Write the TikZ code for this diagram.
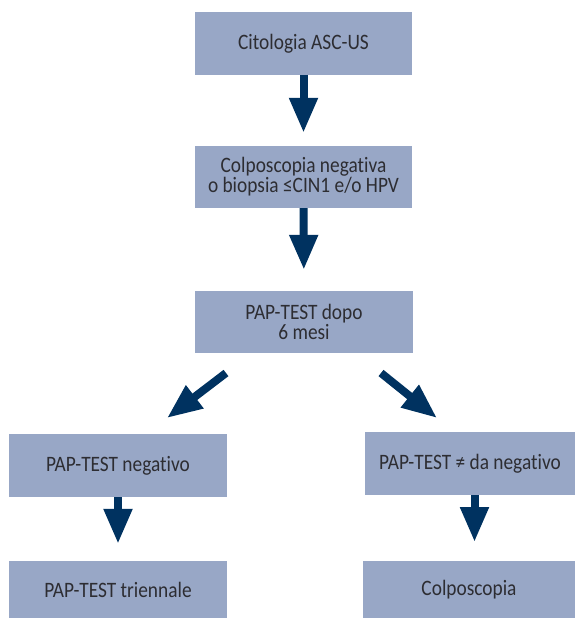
\documentclass[tikz,border=0pt]{standalone}
\usepackage{fontspec}
\setmainfont{Carlito}[FakeStretch=0.88, Ligatures={NoCommon}]
\usetikzlibrary{arrows.meta}
\definecolor{boxfill}{RGB}{152,167,198}
\definecolor{arrowcol}{RGB}{0,50,96}
\definecolor{txtcol}{RGB}{45,45,50}
\tikzset{
  flowbox/.style={fill=boxfill, draw=none, inner sep=0pt, align=center,
    text=txtcol, font=\fontsize{22}{20}\selectfont},
  fatarrow/.style={draw=arrowcol, line width=8pt,
    -{Triangle[width=27pt,length=35pt]}, arrowcol}
}
\begin{document}
\begin{tikzpicture}[x=1pt,y=-1pt]
\useasboundingbox (0,0) rectangle (575,618);
\node[flowbox, minimum width=217pt, minimum height=62pt] (b1) at (303.5,43.5) {Citologia ASC-US};
\node[flowbox, minimum width=217pt, minimum height=62pt] (b2) at (303.5,177) {Colposcopia negativa\\o biopsia ≤CIN1 e/o HPV};
\node[flowbox, minimum width=218pt, minimum height=62pt] (b3) at (304,322) {PAP-TEST dopo\\6 mesi};
\node[flowbox, minimum width=218pt, minimum height=63pt] (b4) at (118,465.5) {PAP-TEST negativo};
\node[flowbox, minimum width=210pt, minimum height=63pt] (b5) at (470,463.5) {PAP-TEST ≠ da negativo};
\node[flowbox, minimum width=218pt, minimum height=57pt] (b6) at (118,589.5) {PAP-TEST triennale};
\node[flowbox, minimum width=212pt, minimum height=57pt] (b7) at (469,589.5) {Colposcopia};
\coordinate (l1) at (226,373);
\coordinate (l2) at (167,418);
\coordinate (r1) at (381,373);
\coordinate (r2) at (437,418);
\draw[fatarrow, shorten >=13pt] (b1) -- (b2);
\draw[fatarrow, shorten >=21pt] (b2) -- (b3);
\draw[fatarrow] (l1) -- (l2);
\draw[fatarrow] (r1) -- (r2);
\draw[fatarrow, shorten >=17pt] (b4.south) -- (b4.south |- b6.north);
\draw[fatarrow, shorten >=19pt] (b5.south -| 474.5,0) -- (474.5,561);
\end{tikzpicture}
\end{document}
